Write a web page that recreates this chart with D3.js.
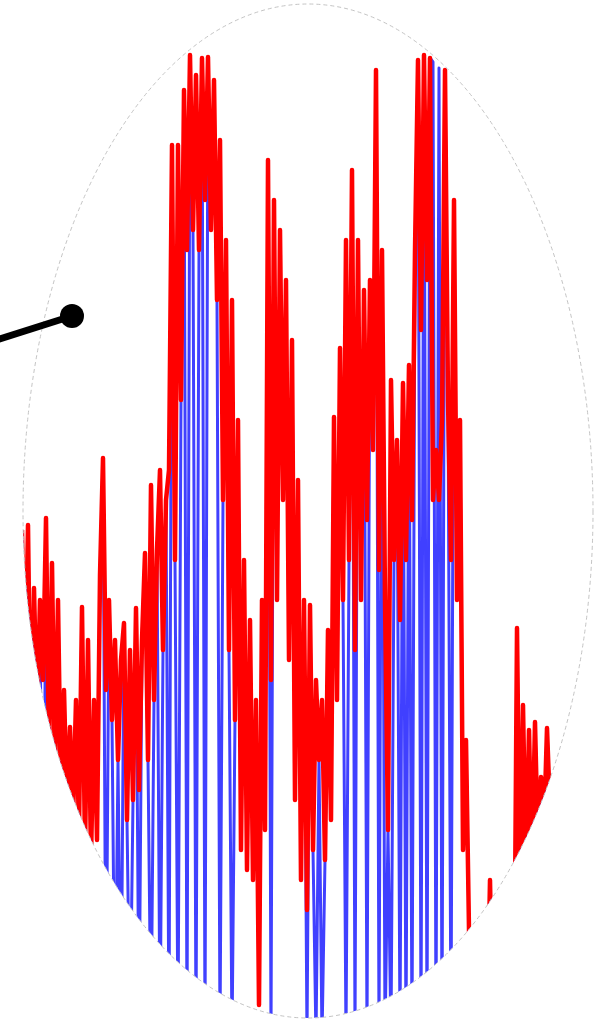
<!DOCTYPE html>
<html>
<head>
<meta charset="utf-8">
<script src="https://cdn.jsdelivr.net/npm/d3@7"></script>
<style>
    body { margin: 0; background: #fff; }
    svg { display: block; }
</style>
</head>
<body>
<div id="chart"></div>
<script>
// series values (0..100), one per sample
const redSeries = [
    51, 34, 51.5, 28, 45.2, 32, 44, 36, 52.2, 28,
    47.7, 26, 44, 24, 35, 23, 31.3, 22, 34, 21,
    43.3, 19, 40, 18, 34, 20, 46.5, 58.2, 35, 44,
    32, 40, 28, 38, 41.7, 22, 39, 24, 43.2, 25,
    40, 48.7, 28, 55.5, 34, 49, 57, 39, 54, 57,
    89.5, 48, 89.5, 64, 95, 79, 98.5, 81, 96.5, 79,
    98.2, 84, 98.3, 81, 96, 74, 90, 54, 80, 39,
    74, 32, 62, 19, 48, 17, 42, 16, 34, 3.5,
    44, 21, 88, 36, 84, 44, 81, 54, 76, 38,
    70, 24, 56, 16, 44, 13, 43.5, 19, 36, 28,
    34, 18, 41, 22, 62.3, 34, 69.2, 44, 80, 48,
    87, 39, 80, 44, 75, 52, 76, 59, 97, 47,
    79, 44, 21, 66, 48, 60, 42, 65.7, 48, 67.5,
    52, 79, 98, 71, 98.5, 76, 98.2, 54, 59, 54,
    62, 97, 64, 48, 84, 44, 62, 19, 30, 11,
    0, 0, 0, 0, 0, 0, 16, 0, 0, 0,
    0, 0, 0, 0, 0, 41.2, 14, 33.5, 16, 31,
    17, 31.8, 19, 26.3, 21, 31.2, 23, 0, 0, 0,
    0, 0, 0, 0, 0, 0, 0, 0, 0, 0
];

const blueSeries = [
    51, 34, 51.5, 28, 45.2, 32, 44, 0, 52.2, 28,
    47.7, 26, 44, 24, 35, 23, 31.3, 22, 34, 21,
    43.3, 19, 40, 18, 34, 20, 46.5, 58.2, 0, 44,
    32, 0, 28, 0, 41.7, 22, 0, 24, 43.2, 0,
    40, 48.7, 28, 0, 34, 49, 0, 39, 54, 0,
    89.5, 48, 0, 64, 95, 0, 98.5, 81, 0, 79,
    98.2, 0, 98.3, 81, 96, 74, 0, 54, 80, 39,
    0, 32, 62, 19, 48, 17, 42, 16, 34, 3.5,
    44, 21, 88, 0, 84, 44, 81, 54, 76, 38,
    70, 24, 56, 16, 44, 0, 43.5, 19, 0, 28,
    0, 18, 41, 22, 62.3, 34, 69.2, 44, 0, 48,
    87, 0, 80, 44, 75, 0, 76, 59, 97, 0,
    79, 0, 21, 0, 48, 60, 0, 65.7, 0, 67.5,
    0, 79, 98, 0, 98.5, 0, 98.2, 97.8, 0, 97.2,
    0, 97, 64, 0, 84, 44, 62, 19, 30, 11,
    0, 0, 0, 0, 0, 0, 16, 0, 0, 0,
    0, 0, 0, 0, 0, 41.2, 14, 33.5, 16, 31,
    17, 31.8, 19, 26.3, 21, 31.2, 23, 0, 0, 0,
    0, 0, 0, 0, 0, 0, 0, 0, 0, 0
];

const width = 601,
    height = 1021;

const lens = {cx: 308, cy: 511, rx: 285, ry: 507};
const pointer = {x1: -10, y1: 342, x2: 72, y2: 316, r: 12};

const svg = d3.select("#chart").append("svg")
    .attr("width", width)
    .attr("height", height);

svg.append("defs").append("clipPath")
    .attr("id", "lens-clip")
    .append("ellipse")
    .attr("cx", lens.cx)
    .attr("cy", lens.cy)
    .attr("rx", lens.rx)
    .attr("ry", lens.ry);

const x = d3.scaleLinear()
    .domain([0, redSeries.length - 1])
    .range([22, 22 + 3 * (redSeries.length - 1)]);

const y = d3.scaleLinear()
    .domain([0, 100])
    .range([1040, 40]);

const line = d3.line()
    .x((d, i) => x(i))
    .y(d => y(d));

const plot = svg.append("g")
    .attr("clip-path", "url(#lens-clip)");

plot.append("path")
    .datum(blueSeries)
    .attr("d", line)
    .attr("fill", "none")
    .attr("stroke", "#0000ff")
    .attr("stroke-opacity", 0.75)
    .attr("stroke-width", 3)
    .attr("stroke-linejoin", "round");

plot.append("path")
    .datum(redSeries)
    .attr("d", line)
    .attr("fill", "none")
    .attr("stroke", "#ff0000")
    .attr("stroke-width", 4.5)
    .attr("stroke-linejoin", "round");

// lens outline
svg.append("ellipse")
    .attr("cx", lens.cx)
    .attr("cy", lens.cy)
    .attr("rx", lens.rx)
    .attr("ry", lens.ry)
    .attr("fill", "none")
    .attr("stroke", "#c4c4c4")
    .attr("stroke-width", 1)
    .attr("stroke-dasharray", "4,3");

// pointer handle
svg.append("line")
    .attr("x1", pointer.x1)
    .attr("y1", pointer.y1)
    .attr("x2", pointer.x2)
    .attr("y2", pointer.y2)
    .attr("stroke", "#000")
    .attr("stroke-width", 7);

svg.append("circle")
    .attr("cx", pointer.x2)
    .attr("cy", pointer.y2)
    .attr("r", pointer.r)
    .attr("fill", "#000");
</script>
</body>
</html>
